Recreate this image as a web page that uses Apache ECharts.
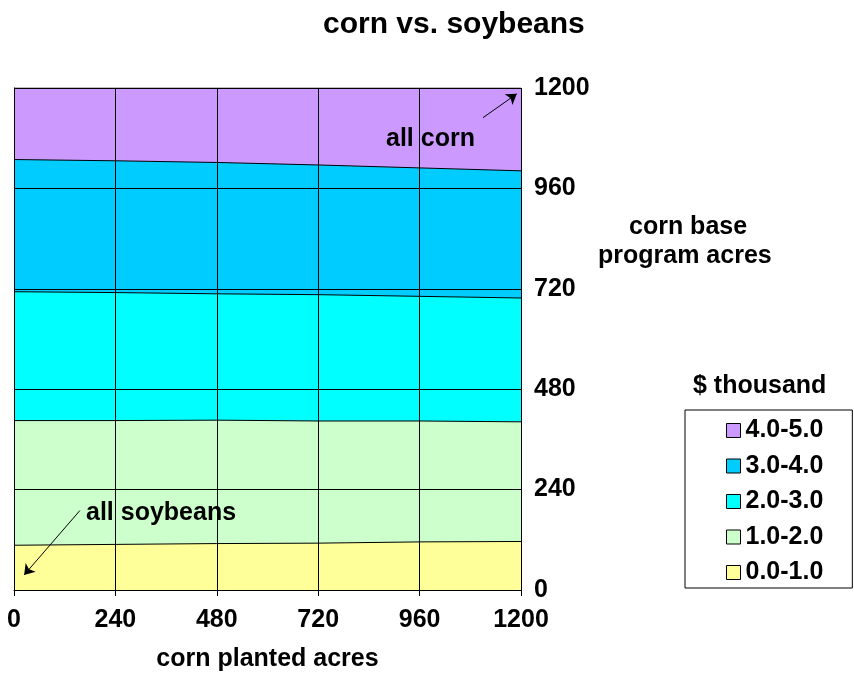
<!DOCTYPE html>
<html>
<head>
<meta charset="utf-8">
<script src="https://cdn.jsdelivr.net/npm/echarts@6/dist/echarts.min.js"></script>
<style>
  html, body { margin: 0; padding: 0; background: #fff; }
  #chart { width: 854px; height: 677px; }
</style>
</head>
<body>
<div id="chart"></div>
<script>
// corn planted acres (x) where the contour boundaries were read
const plantedAcres = [0, 240, 480, 720, 960, 1200]

// corn base program acres at each boundary between $ bands
const edge01to12 = [107, 109, 111, 112, 115, 116]
const edge12to23 = [405, 405, 406, 404, 404, 402]
const edge23to34 = [713, 711, 708, 706, 702, 698]
const edge34to45 = [1029, 1026, 1022, 1016, 1009, 1002]
const edgeTop = [1200, 1200, 1200, 1200, 1200, 1200]

const bandNames = ['4.0-5.0', '3.0-4.0', '2.0-3.0', '1.0-2.0', '0.0-1.0']
const bandColors = ['#cc99ff', '#00ccff', '#00ffff', '#ccffcc', '#ffff99']
const bandEdges = [edgeTop, edge34to45, edge23to34, edge12to23, edge01to12]

const axisTicks = [0, 240, 480, 720, 960, 1200]

// annotation arrows [from, to] in data units
const cornArrow = [[1110, 1129], [1190, 1186]]
const soyArrow = [[156, 190], [24, 36]]

const font = "'Liberation Sans', Arial, sans-serif"
const chart = echarts.init(document.getElementById('chart'))

const series = bandNames.map((name, i) => ({
  name,
  type: 'line',
  data: plantedAcres.map((x, j) => [x, bandEdges[i][j]]),
  symbol: 'none',
  silent: true,
  z: 2 + i * 0.01,
  itemStyle: { color: bandColors[i] },
  lineStyle: { color: '#000', width: 1 },
  areaStyle: { color: bandColors[i], opacity: 1, origin: 'start' }
}))

// arrows for the two corner notes
series.push({
  type: 'line',
  data: [],
  silent: true,
  z: 10,
  markLine: {
    silent: true,
    symbol: ['none', 'arrow'],
    symbolSize: 10,
    label: { show: false },
    lineStyle: { color: '#000', width: 1, type: 'solid' },
    data: [
      [{ coord: cornArrow[0] }, { coord: cornArrow[1] }],
      [{ coord: soyArrow[0] }, { coord: soyArrow[1] }]
    ]
  }
})

const bold = { color: '#000', fontWeight: 'bold', fontFamily: font, fontSize: 25 }
const txt = (text, left, top, z) => ({
  type: 'text', left, top, z: z || 1,
  style: { text, fill: '#000', font: 'bold 25px ' + font }
})

chart.setOption({
  backgroundColor: '#fff',
  animation: false,
  title: {
    text: 'corn vs. soybeans',
    left: 318,
    top: 5,
    textStyle: { color: '#000', fontWeight: 'bold', fontFamily: font, fontSize: 30 }
  },
  grid: { left: 14, top: 88, width: 507, height: 505 },
  xAxis: {
    type: 'value',
    min: axisTicks[0],
    max: axisTicks[axisTicks.length - 1],
    interval: 240,
    z: 5,
    name: 'corn planted acres',
    nameLocation: 'middle',
    nameGap: 57,
    nameTextStyle: bold,
    axisLine: { show: true, lineStyle: { color: '#000', width: 1 } },
    axisTick: { show: true, length: 6, lineStyle: { color: '#000' } },
    axisLabel: Object.assign({ margin: 18, formatter: v => String(v) }, bold),
    splitLine: { show: true, lineStyle: { color: '#000', width: 1 } }
  },
  yAxis: {
    type: 'value',
    position: 'right',
    min: axisTicks[0],
    max: axisTicks[axisTicks.length - 1],
    interval: 240,
    z: 5,
    axisLine: { show: true, lineStyle: { color: '#000', width: 1 } },
    axisTick: { show: true, length: 6, lineStyle: { color: '#000' } },
    axisLabel: Object.assign({ margin: 13, formatter: v => String(v) }, bold),
    splitLine: { show: true, lineStyle: { color: '#000', width: 1 } }
  },
  legend: {
    data: bandNames,
    orient: 'vertical',
    left: 685,
    top: 410,
    icon: 'rect',
    itemWidth: 14,
    itemHeight: 14,
    itemGap: 10.5,
    padding: [8, 29, 3, 41],
    borderColor: '#000',
    borderWidth: 1,
    backgroundColor: '#fff',
    selectedMode: false,
    itemStyle: { borderColor: '#000', borderWidth: 1 },
    textStyle: Object.assign({ lineHeight: 25 }, bold)
  },
  graphic: [
    txt('corn base', 629, 215),
    txt('program acres', 598, 244),
    txt('$ thousand', 693, 374),
    txt('all corn', 386, 127, 20),
    txt('all soybeans', 86, 501, 20)
  ],
  series
})
</script>
</body>
</html>
